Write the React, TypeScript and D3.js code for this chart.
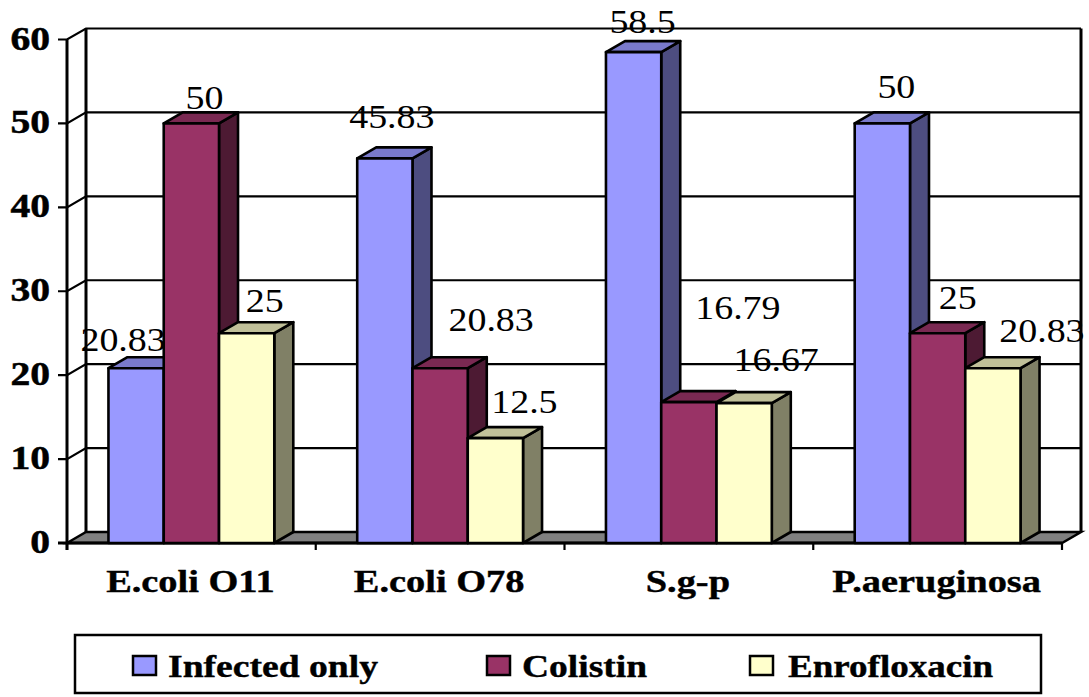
import React from "react";
import * as d3 from "d3";

const categories = ["E.coli O11", "E.coli O78", "S.g-p", "P.aeruginosa"];
const seriesNames = ["Infected only", "Colistin", "Enrofloxacin"];
const infectedOnly = [20.83, 45.83, 58.5, 50];
const colistin = [50, 20.83, 16.79, 25];
const enrofloxacin = [25, 12.5, 16.67, 20.83];
const yTicks = [0, 10, 20, 30, 40, 50, 60];
const seriesValues = [infectedOnly, colistin, enrofloxacin];

// layout and style, kept apart from the values
const faces = [
  { front: "#9999FF", top: "#7A7ACC", side: "#4D4D80" },
  { front: "#993366", top: "#7A2952", side: "#4D1A33" },
  { front: "#FFFFCC", top: "#C0C099", side: "#808066" },
];
// label nudges [dx, baseline dy] relative to each bar's top-front centre
const labelNudge = [
  [[-13, -17], [13, -14], [18, -21]],
  [[7, -30], [51, -37], [29, -25]],
  [[9, -19], [49, -83], [32, -32]],
  [[14, -25], [20, -24], [49, -26]],
];
const legendX = [[133, 168], [487, 522], [750, 788]];
const legendWidths = [210, 125, 205];
const serif = "'Liberation Serif', serif";
const depthX = 19;
const depthY = 11;

const pts = (p: number[][]) => p.map((q) => q.join(",")).join(" ");

export default function App() {
  const x = d3.scaleBand<string>().domain(categories).range([67, 1062]).paddingInner(1 / 3).paddingOuter(1 / 6);
  const y = d3.scaleLinear().domain([0, 60]).range([543, 39.5]);
  const sub = d3.scaleBand<string>().domain(seriesNames).range([0, x.bandwidth()]);
  const tickX = d3.range(categories.length + 1).map((i) => 67 + (i * (1062 - 67)) / categories.length);
  const X0 = 67, X1 = 1062;
  const line = "#000";
  return (
    <svg width={1089} height={697} style={{ position: "absolute", left: 0, top: 0, background: "#fff" }}>
      <polygon points={pts([[X0, y(0)], [X0 + depthX, y(0) - depthY], [X1 + depthX, y(0) - depthY], [X1, y(0)]])} fill="#808080" stroke={line} strokeWidth={2.5} />
      {yTicks.slice(1).map((t) => (
        <polyline key={t} points={pts([[X0 - 9, y(t)], [X0, y(t)], [X0 + depthX, y(t) - depthY], [X1 + depthX, y(t) - depthY]])} fill="none" stroke={line} strokeWidth={2.2} />
      ))}
      <line x1={X0 + depthX} x2={X0 + depthX} y1={y(60) - depthY} y2={y(0) - depthY} stroke={line} strokeWidth={3} />
      <line x1={X1 + depthX} x2={X1 + depthX} y1={y(60) - depthY} y2={y(0) - depthY} stroke={line} strokeWidth={3} />
      <line x1={X0} x2={X0} y1={y(60)} y2={y(0) + 7} stroke={line} strokeWidth={3} />
      <line x1={X0 - 9} x2={X1} y1={y(0)} y2={y(0)} stroke={line} strokeWidth={3} />
      {tickX.map((t) => (
        <line key={t} x1={t} x2={t} y1={y(0)} y2={y(0) + 7} stroke={line} strokeWidth={2.2} />
      ))}
      {categories.map((c, ci) =>
        seriesNames.map((s, si) => {
          const bx = x(c)! + sub(s)!;
          const bw = sub.bandwidth();
          const top = y(seriesValues[si][ci]);
          const base = y(0);
          return (
            <g key={c + s} stroke={line} strokeWidth={2.6} strokeLinejoin="round">
              <polygon points={pts([[bx + bw, top], [bx + bw + depthX, top - depthY], [bx + bw + depthX, base - depthY], [bx + bw, base]])} fill={faces[si].side} />
              <polygon points={pts([[bx, top], [bx + depthX, top - depthY], [bx + bw + depthX, top - depthY], [bx + bw, top]])} fill={faces[si].top} />
              <rect x={bx} y={top} width={bw} height={base - top} fill={faces[si].front} />
            </g>
          );
        })
      )}
      {categories.map((c, ci) =>
        seriesNames.map((s, si) => {
          const cx = x(c)! + sub(s)! + sub.bandwidth() / 2 + labelNudge[ci][si][0];
          const by = y(seriesValues[si][ci]) + labelNudge[ci][si][1];
          return (
            <text key={c + s} transform={`translate(${cx},${by}) scale(1.15,1)`} textAnchor="middle" fontFamily={serif} fontSize={33} fill="#000">
              {seriesValues[si][ci]}
            </text>
          );
        })
      )}
      {yTicks.map((t) => (
        <text key={t} transform={`translate(50,${y(t) + 10}) scale(1.2,1)`} textAnchor="end" fontFamily={serif} fontWeight="bold" fontSize={33} stroke="#000" strokeWidth={0.5} fill="#000">
          {t}
        </text>
      ))}
      {categories.map((c) => (
        <text key={c} transform={`translate(${x(c)! + x.bandwidth() / 2 - 1},592) scale(1.2,1)`} textAnchor="middle" fontFamily={serif} fontWeight="bold" fontSize={32} stroke="#000" strokeWidth={0.4} fill="#000">
          {c}
        </text>
      ))}
      <rect x={75} y={635} width={966} height={58} fill="#fff" stroke={line} strokeWidth={2.5} />
      {seriesNames.map((s, si) => (
        <g key={s}>
          <rect x={legendX[si][0]} y={656} width={23} height={19} fill={faces[si].front} stroke={line} strokeWidth={2.5} />
          <text x={legendX[si][1]} y={677} textLength={legendWidths[si]} lengthAdjust="spacingAndGlyphs" fontFamily={serif} fontWeight="bold" fontSize={32} stroke="#000" strokeWidth={0.4} fill="#000">
            {s}
          </text>
        </g>
      ))}
    </svg>
  );
}
